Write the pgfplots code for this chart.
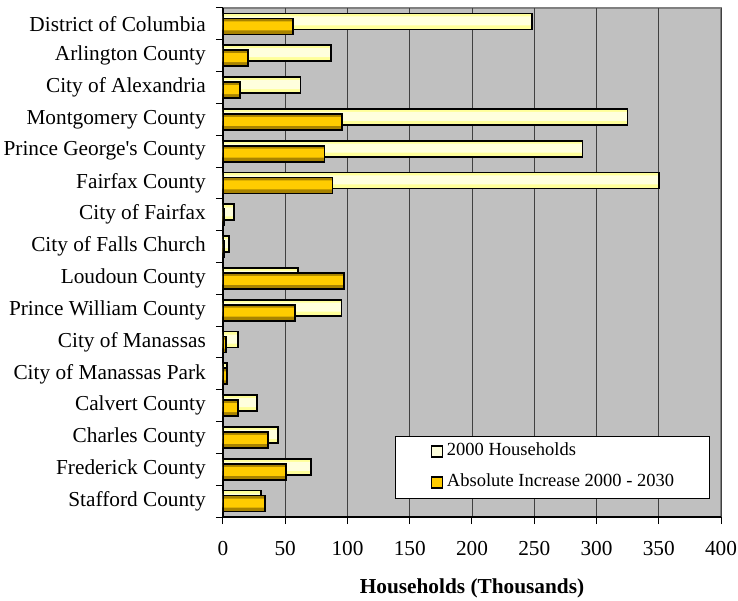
\documentclass[border=0pt]{standalone}
\usepackage{fontspec}
\setmainfont{Liberation Serif}
\usepackage{pgfplots}
\usepackage{pgfplotstable}
\pgfplotsset{compat=1.18}
\definecolor{bggray}{HTML}{C0C0C0}
\definecolor{frgray}{HTML}{808080}
\definecolor{goldD}{HTML}{A88300}
\definecolor{goldM}{HTML}{FFCC00}
\definecolor{lightD}{HTML}{FFFF99}
\definecolor{lightM}{HTML}{FFFFDD}
\pgfplotstableread{
y light gold
0 30.8 33.5
1 70.8 50.4
2 44.2 36.4
3 27.6 12.3
4 3.5 3.0
5 12.1 2.7
6 95.2 57.9
7 60.0 97.0
8 4.6 0.8
9 8.8 0.8
10 350.4 87.9
11 288.7 81.5
12 324.9 95.7
13 62.2 13.4
14 86.6 20.1
15 248.5 56.3
}\datatable
\begin{document}
\begin{tikzpicture}
\begin{axis}[
  scale only axis, width=498bp, height=509bp,
  at={(0,0)}, anchor=south west,
  xmin=0, xmax=400, ymin=-0.5, ymax=15.5,
  axis lines*=left,
  axis line style={black, line width=1.2bp},
  axis background/.style={fill=bggray, draw=frgray, line width=2.5bp},
  xtick={0,50,...,400},
  ytick={-0.5,0.5,...,15.5},
  yticklabel={\phantom{0}},
  extra y ticks={0,...,15},
  extra y tick labels={Stafford County, Frederick County, Charles County, Calvert County, City of Manassas Park, City of Manassas, Prince William County, Loudoun County, City of Falls Church, City of Fairfax, Fairfax County, Prince George\textquotesingle s County, Montgomery County, City of Alexandria, Arlington County, District of Columbia},
  extra y tick style={tick style={draw=none}},
  tick align=outside,
  major tick length=7bp,
  tick style={black, line width=1bp},
  xmajorgrids,
  major grid style={draw=black!75, line width=0.9bp},
  /pgf/number format/assume math mode=true,
  ticklabel style={font=\fontsize{21.3bp}{24bp}\selectfont, inner sep=0pt},
  yticklabel style={xshift=-10bp},
  xticklabel style={yshift=-17bp},
  xlabel={Households (Thousands)},
  xlabel style={at={(axis description cs:0.5,0)}, anchor=center, yshift=-71bp, font=\fontsize{21.3bp}{24bp}\selectfont\bfseries, inner sep=0pt},
  xbar, bar width=16bp,
  legend style={at={(0.977,0.0354)}, anchor=south east, draw=black, line width=1bp, fill=white,
    inner xsep=35bp, inner ysep=7.5bp, row sep=15bp,
    font=\fontsize{18.5bp}{22bp}\selectfont,
    nodes={inner sep=0pt, text height=12bp, text depth=4bp}},
  legend cell align=left,
  legend image code/.code={\draw[#1, line width=1.8bp] (0bp,-5bp) rectangle (11bp,6bp); \path (15bp,0bp);},
]
% 2000 households (light, behind)
\addplot[forget plot, draw=none, fill=lightD, bar shift=2.5bp] table[x=light, y=y] {\datatable};
\addplot[forget plot, draw=none, fill=lightM, bar shift=3bp, bar width=9bp] table[x=light, y=y] {\datatable};
\addplot[forget plot, draw=black, fill=none, line width=1.8bp, bar shift=2.5bp] table[x=light, y=y] {\datatable};
% absolute increase (gold, in front)
\addplot[forget plot, draw=none, fill=goldD, bar shift=-2.5bp] table[x=gold, y=y] {\datatable};
\addplot[forget plot, draw=none, fill=goldM, bar shift=-2bp, bar width=9bp] table[x=gold, y=y] {\datatable};
\addplot[forget plot, draw=black, fill=none, line width=1.8bp, bar shift=-2.5bp] table[x=gold, y=y] {\datatable};
\addlegendimage{draw=black, fill=lightM}
\addlegendentry{2000 Households}
\addlegendimage{draw=black, fill=goldM}
\addlegendentry{Absolute Increase 2000 - 2030}
\end{axis}
\pgfresetboundingbox
\path (-223bp,-84bp) rectangle (515bp,517bp);
\end{tikzpicture}
\end{document}
